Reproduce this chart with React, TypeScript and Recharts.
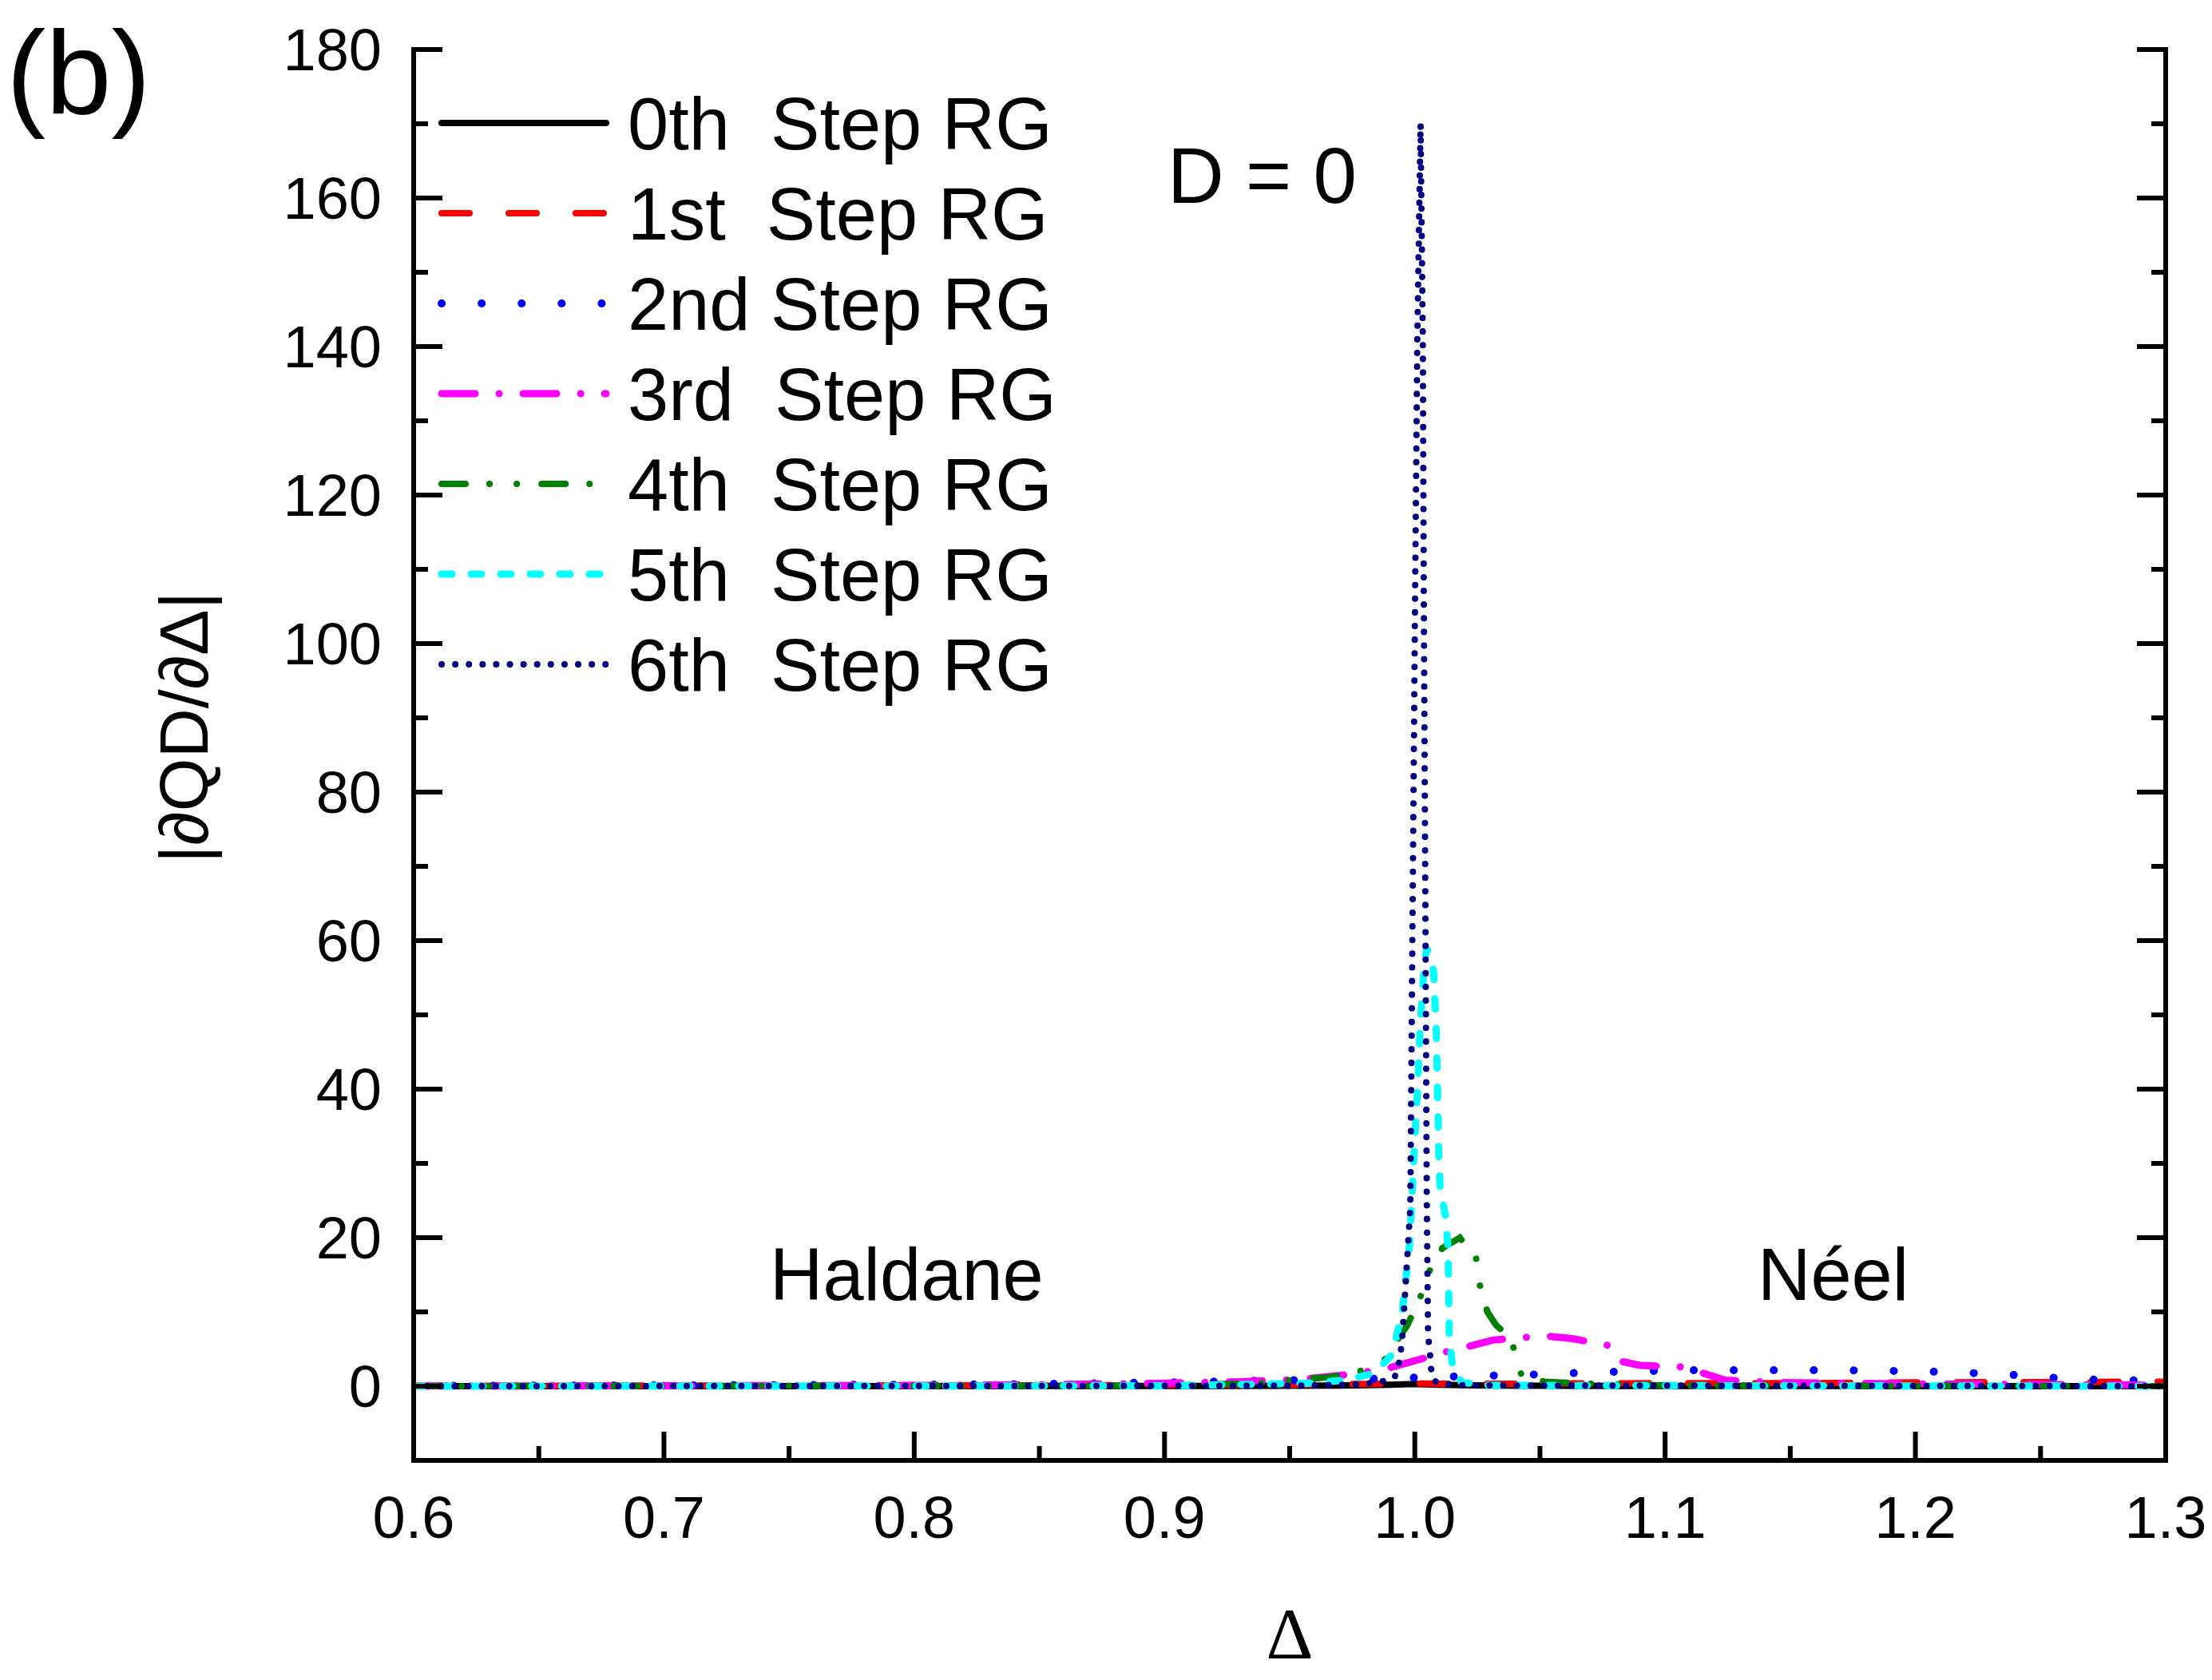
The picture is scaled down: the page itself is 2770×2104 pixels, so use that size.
import { LineChart, Line, XAxis, YAxis, Legend } from "recharts";

// tick positions (labelled every 0.1 / 20, unlabelled minor ticks between)
const X_TICKS = [0.6, 0.65, 0.7, 0.75, 0.8, 0.85, 0.9, 0.95, 1.0, 1.05, 1.1, 1.15, 1.2, 1.25, 1.3];
const Y_TICKS = [0, 10, 20, 30, 40, 50, 60, 70, 80, 90, 100, 110, 120, 130, 140, 150, 160, 170, 180];

// 0th step RG
const RG0_DELTA = [0.6, 0.9, 0.97, 0.99, 1.0, 1.01, 1.03, 1.1, 1.3];
const RG0_VALUE = [0, 0.02, 0.08, 0.2, 0.3, 0.2, 0.08, 0.02, 0];

// 1st step RG
const RG1_DELTA = [0.6, 0.8, 0.9, 0.95, 0.98, 1.0, 1.02, 1.05, 1.1, 1.15, 1.2, 1.25, 1.3];
const RG1_VALUE = [0.05, 0.1, 0.15, 0.2, 0.3, 0.35, 0.3, 0.35, 0.4, 0.4, 0.5, 0.55, 0.6];

// 2nd step RG
const RG2_DELTA = [0.6, 0.7, 0.8, 0.85, 0.9, 0.95, 0.98, 0.995, 1.01, 1.026, 1.042, 1.058, 1.074, 1.09, 1.106, 1.14, 1.17, 1.204, 1.22, 1.236, 1.252, 1.268, 1.3];
const RG2_VALUE = [0.05, 0.1, 0.2, 0.3, 0.5, 0.8, 0.95, 1.1, 1.25, 1.4, 1.5, 1.7, 1.9, 2.0, 2.15, 2.15, 2.15, 2.0, 1.8, 1.6, 1.2, 0.9, 0.7];

// 3rd step RG
const RG3_DELTA = [0.6, 0.8, 0.85, 0.9, 0.93, 0.954, 0.974, 0.988, 1.004, 1.011, 1.021, 1.031, 1.045, 1.054, 1.063, 1.077, 1.0815, 1.09, 1.106, 1.113, 1.124, 1.145, 1.2, 1.3];
const RG3_VALUE = [0.02, 0.1, 0.2, 0.4, 0.6, 0.9, 1.6, 2.3, 3.8, 4.5, 5.3, 6.2, 6.6, 6.7, 6.4, 5.5, 3.4, 2.8, 2.6, 2.0, 0.8, 0.5, 0.3, 0.15];

// 4th step RG
const RG4_DELTA = [0.6, 0.9, 0.94, 0.953, 0.967, 0.979, 0.988, 0.997, 1.002, 1.006, 1.011, 1.018, 1.0245, 1.026, 1.029, 1.0325, 1.0385, 1.041, 1.043, 1.052, 1.066, 1.1, 1.3];
const RG4_VALUE = [0, 0.1, 0.4, 0.9, 1.25, 2.1, 3.6, 8.2, 11.8, 15.6, 18.6, 20, 17.2, 13.6, 10, 8.2, 6.5, 2.9, 1.2, 0.6, 0.36, 0.1, 0];

// 5th step RG
const RG5_DELTA = [0.6, 0.9, 0.96, 0.974, 0.984, 0.991, 0.995, 0.9979, 0.9995, 1.0011, 1.0022, 1.0038, 1.0048, 1.0075, 1.0086, 1.0091, 1.0096, 1.0101, 1.0122, 1.0133, 1.0135, 1.0138, 1.015, 1.0164, 1.0187, 1.03, 1.3];
const RG5_VALUE = [0, 0.05, 0.4, 0.9, 1.8, 4.3, 10, 19, 30, 40, 49, 57, 59, 55.9, 47.7, 39.5, 30.8, 26.7, 23, 18.6, 14, 6.2, 2.9, 2.0, 0.5, 0.1, 0];

// 6th step RG
const RG6_DELTA = [0.6, 0.95, 0.975, 0.981, 0.988, 0.992, 0.9936, 0.9944, 0.9951, 0.9982, 0.999, 1.0001, 1.001, 1.0023, 1.0032, 1.0036, 1.0043, 1.0048, 1.0053, 1.0061, 1.0064, 1.0078, 1.01, 1.02, 1.3];
const RG6_VALUE = [0, 0.05, 0.2, 0.36, 0.7, 1.25, 2.9, 4.7, 7, 24, 59, 106, 141, 170, 141, 106, 59, 24, 7, 4.3, 2.5, 0.7, 0.36, 0.1, 0];

const zip = (xs: number[], ys: number[]) => xs.map((delta, i) => ({ delta, value: ys[i] }));

const SERIES = [
  { name: "0th  Step RG", data: zip(RG0_DELTA, RG0_VALUE), color: "#000000", width: 8, dash: undefined },
  { name: "1st  Step RG", data: zip(RG1_DELTA, RG1_VALUE), color: "#ff0000", width: 8, dash: "35 49" },
  { name: "2nd Step RG", data: zip(RG2_DELTA, RG2_VALUE), color: "#0000ff", width: 10, dash: "0.1 50" },
  { name: "3rd  Step RG", data: zip(RG3_DELTA, RG3_VALUE), color: "#ff00ff", width: 9, dash: "42 30 0.1 30" },
  { name: "4th  Step RG", data: zip(RG4_DELTA, RG4_VALUE), color: "#008000", width: 8, dash: "30 30 0.1 34 0.1 31" },
  { name: "5th  Step RG", data: zip(RG5_DELTA, RG5_VALUE), color: "#00ffff", width: 9, dash: "13 24" },
  { name: "6th  Step RG", data: zip(RG6_DELTA, RG6_VALUE), color: "#000080", width: 8, dash: "0.1 17" },
];

const SANS = "'Liberation Sans', Arial, sans-serif";
const MAJOR = 36;
const MINOR = 18;
const TICK_FONT = 74;

const isMajorX = (v: number) => Math.round(v * 100) % 10 === 0;
const isMajorY = (v: number) => Math.round(v) % 20 === 0;

const BottomTick = (props: any) => {
  const { x, y, payload } = props;
  const major = isMajorX(payload.value);
  return (
    <g>
      <line x1={x} y1={y} x2={x} y2={y - (major ? MAJOR : MINOR)} stroke="#000" strokeWidth={6} />
      {major && (
        <text x={x} y={y + 97} textAnchor="middle" fontSize={TICK_FONT} fontFamily={SANS} fill="#000">
          {payload.value.toFixed(1)}
        </text>
      )}
    </g>
  );
};

const TopTick = (props: any) => {
  const { x, y, payload } = props;
  const major = isMajorX(payload.value);
  return <line x1={x} y1={y} x2={x} y2={y + (major ? MAJOR : MINOR)} stroke="#000" strokeWidth={6} />;
};

const LeftTick = (props: any) => {
  const { x, y, payload } = props;
  const major = isMajorY(payload.value);
  return (
    <g>
      <line x1={x} y1={y} x2={x + (major ? MAJOR : MINOR)} y2={y} stroke="#000" strokeWidth={6} />
      {major && (
        <text x={x - 40} y={y + 26} textAnchor="end" fontSize={TICK_FONT} fontFamily={SANS} fill="#000">
          {payload.value}
        </text>
      )}
    </g>
  );
};

const RightTick = (props: any) => {
  const { x, y, payload } = props;
  const major = isMajorY(payload.value);
  return <line x1={x} y1={y} x2={x - (major ? MAJOR : MINOR)} y2={y} stroke="#000" strokeWidth={6} />;
};

const StepLegend = () => (
  <svg width={850} height={800}>
    {SERIES.map((s, i) => {
      const cy = 64 + i * 113;
      return (
        <g key={s.name}>
          <line
            x1={17}
            y1={cy}
            x2={223}
            y2={cy}
            stroke={s.color}
            strokeWidth={s.width}
            strokeDasharray={s.dash}
            strokeLinecap="round"
          />
          <text x={250} y={cy + 33} fontSize={92} fontFamily={SANS} fill="#000" style={{ whiteSpace: "pre" }}>
            {s.name}
          </text>
        </g>
      );
    })}
  </svg>
);

const axisLine = { stroke: "#000", strokeWidth: 6, strokeLinecap: "square" as const };

export default function App() {
  return (
    <div style={{ position: "absolute", left: 0, top: 0, width: 2770, height: 2104, background: "#fff" }}>
      <LineChart width={2770} height={2104} margin={{ top: 62, right: 57, left: 318, bottom: 125 }}>
        <XAxis
          dataKey="delta"
          type="number"
          domain={[0.6, 1.3]}
          ticks={X_TICKS}
          allowDataOverflow
          height={150}
          tickSize={0}
          tickMargin={0}
          tickLine={false}
          axisLine={axisLine}
          tick={BottomTick}
          interval={0}
        />
        <XAxis
          xAxisId="top"
          orientation="top"
          dataKey="delta"
          type="number"
          domain={[0.6, 1.3]}
          ticks={X_TICKS}
          allowDataOverflow
          height={0}
          tickSize={0}
          tickMargin={0}
          tickLine={false}
          axisLine={axisLine}
          tick={TopTick}
          interval={0}
        />
        <YAxis
          type="number"
          domain={[-10, 180]}
          ticks={Y_TICKS}
          allowDataOverflow
          width={200}
          tickSize={0}
          tickMargin={0}
          tickLine={false}
          axisLine={axisLine}
          tick={LeftTick}
          interval={0}
        />
        <YAxis
          yAxisId="right"
          orientation="right"
          type="number"
          domain={[-10, 180]}
          ticks={Y_TICKS}
          allowDataOverflow
          width={1}
          tickSize={0}
          tickMargin={0}
          tickLine={false}
          axisLine={axisLine}
          tick={RightTick}
          interval={0}
        />
        <Legend
          layout="vertical"
          align="center"
          verticalAlign="middle"
          content={StepLegend}
          wrapperStyle={{ left: 536, top: 90, width: 850, height: 800 }}
        />
        {SERIES.map((s) => (
          <Line
            key={s.name}
            data={s.data}
            dataKey="value"
            name={s.name}
            type="linear"
            stroke={s.color}
            strokeWidth={s.width}
            strokeDasharray={s.dash}
            strokeLinecap="round"
            dot={false}
            activeDot={false}
            isAnimationActive={false}
          />
        ))}
      </LineChart>
      <svg
        width={2770}
        height={2104}
        style={{ position: "absolute", left: 0, top: 0, pointerEvents: "none" }}
      >
        <text x={8} y={143} fontSize={148} fontFamily={SANS} fill="#000">(b)</text>
        <text x={1462} y={254} fontSize={98} fontFamily={SANS} fill="#000">D = 0</text>
        <text x={964} y={1628} fontSize={92} fontFamily={SANS} fill="#000">Haldane</text>
        <text x={2201} y={1628} fontSize={92} fontFamily={SANS} fill="#000">Néel</text>
        <text
          x={230}
          y={911}
          transform="rotate(-90 230 911)"
          textAnchor="middle"
          dominantBaseline="central"
          fontSize={86}
          fontFamily={SANS}
          fill="#000"
        >
          |∂QD/∂Δ|
        </text>
        <text x={1615} y={2077} textAnchor="middle" fontSize={92} fontFamily="'Liberation Serif', 'Times New Roman', serif" fill="#000">
          Δ
        </text>
      </svg>
    </div>
  );
}
